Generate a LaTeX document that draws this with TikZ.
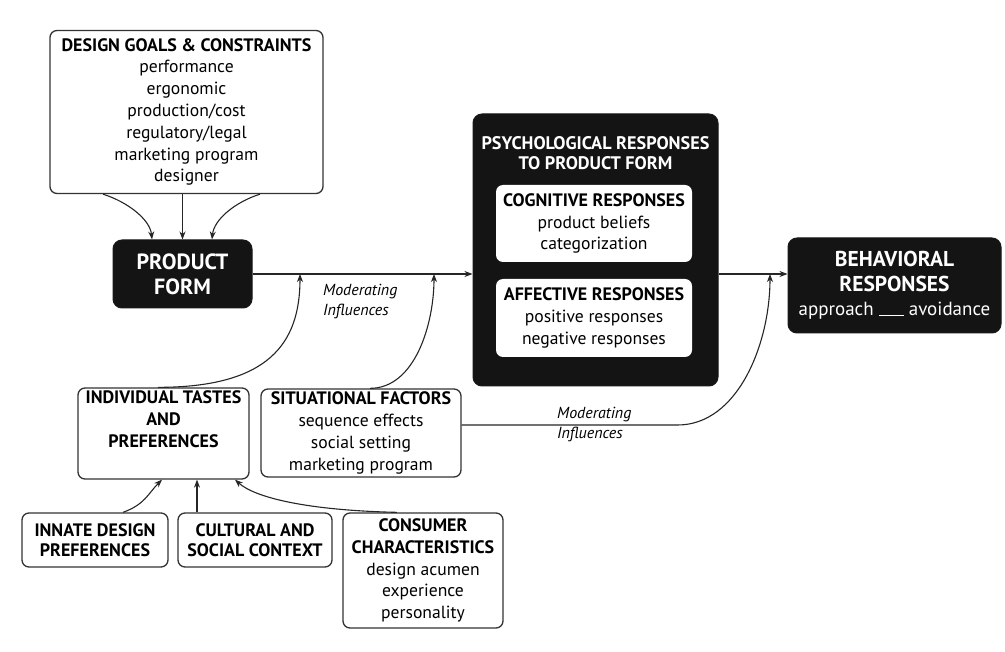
\documentclass[tikz,border=0pt]{standalone}
\usepackage{fontspec}
\setmainfont{PT Sans}
\usetikzlibrary{arrows.meta}
\newcommand\hdr[1]{{\bfseries\fontsize{18}{21.8}\selectfont #1}}
\begin{document}
\begin{tikzpicture}[x=1pt,y=-1pt,
  wbox/.style={draw=black!80, line width=1.3pt, rounded corners=7pt, fill=white, inner sep=0pt, align=center, font=\fontsize{17.6}{21.8}\selectfont},
  bbox/.style={draw=black!90, fill=black!92, line width=1pt, rounded corners=9pt, text=white, inner sep=0pt, align=center},
  arr/.style={-{Stealth[length=8pt,width=6pt,inset=2.5pt]}, line width=1.1pt, draw=black!85},
  modlab/.style={font=\itshape\fontsize{16}{19.5}\selectfont, align=left, inner sep=0pt, anchor=west}]
\useasboundingbox (0,0) rectangle (1005,652);
\fill[white] (0,0) rectangle (1005,652);

% boxes
\node[wbox, minimum width=273pt, minimum height=163pt] (design) at (186.5,112)
  {\hdr{DESIGN GOALS \& CONSTRAINTS}\\performance\\ergonomic\\production/cost\\regulatory/legal\\marketing program\\designer};
\node[bbox, minimum width=139pt, minimum height=68pt, font=\bfseries\fontsize{22}{25}\selectfont] (product) at (182.5,274) {PRODUCT\\FORM};

\node[bbox, minimum width=245pt, minimum height=272pt] (psych) at (595.5,250) {};
\node[text=white, align=center, inner sep=0pt, font=\bfseries\fontsize{18.2}{20.5}\selectfont] (ptitle) at (595.5,153) {PSYCHOLOGICAL RESPONSES\\TO PRODUCT FORM};
\node[wbox, draw=none, minimum width=196pt, minimum height=77pt] (cog) at (594,223.5)
  {\hdr{COGNITIVE RESPONSES}\\product beliefs\\categorization};
\node[wbox, draw=none, minimum width=196pt, minimum height=78pt] (aff) at (594,318)
  {\hdr{AFFECTIVE RESPONSES}\\positive responses\\negative responses};

\node[bbox, minimum width=213pt, minimum height=95pt, font=\fontsize{19}{24.5}\selectfont] (behav) at (894.5,285.5)
  {{\bfseries\fontsize{21.5}{25}\selectfont BEHAVIORAL}\\{\bfseries\fontsize{21.5}{25}\selectfont RESPONSES}\\approach \rule[0pt]{25pt}{1pt} avoidance};

\node[wbox, minimum width=171pt, minimum height=91pt] (indiv) at (163.5,433.5)
  {\hdr{INDIVIDUAL TASTES}\\\hdr{AND}\\\hdr{PREFERENCES}\\\strut};
\node[wbox, minimum width=200pt, minimum height=88pt] (situ) at (361,433)
  {\hdr{SITUATIONAL FACTORS}\\sequence effects\\social setting\\marketing program};

\node[wbox, minimum width=146pt, minimum height=54pt, font=\fontsize{17.6}{20.5}\selectfont] (innate) at (95,540)
  {\hdr{INNATE DESIGN}\\\hdr{PREFERENCES}};
\node[wbox, minimum width=154pt, minimum height=54pt, font=\fontsize{17.6}{20.5}\selectfont] (cult) at (255,540)
  {\hdr{CULTURAL AND}\\\hdr{SOCIAL CONTEXT}};
\node[wbox, minimum width=160pt, minimum height=115pt] (cons) at (423,570.5)
  {\hdr{CONSUMER}\\\hdr{CHARACTERISTICS}\\design acumen\\experience\\personality};

% labels
\node[modlab] (lab1) at (323,301.5) {Moderating\\Influences};
\node[modlab] (lab2) at (557,424.5) {Moderating\\Influences};

% coordinates on main lines
\coordinate (m1) at (300,274);
\coordinate (m2) at (434,274);
\coordinate (m3) at (770,274);

% design arrows
\draw[arr] ([xshift=-83.5pt]design.south) .. controls +(25,8) and +(-2,-20) .. ([xshift=-30.5pt]product.north);
\draw[arr] (product.north |- design.south) -- (product.north);
\draw[arr] ([xshift=73.5pt]design.south) .. controls +(-25,8) and +(2,-20) .. ([xshift=29.5pt]product.north);

% main flow
\draw[arr] (product.east) -- (product.east -| psych.west);
\draw[arr] (psych.east |- product.east) -- (behav.west |- product.east);

% moderating
\draw[arr] ([xshift=-5.5pt]indiv.north) .. controls +(110,0) and +(0,70) .. (m1);
\draw[arr] ([xshift=9pt]situ.north) .. controls +(45,0) and +(0,50) .. (m2);
\draw[arr] ([yshift=8pt]situ.east) -- ++(216,0) .. controls +(60,0) and +(0,70) .. (m3);

% lower arrows
\draw[arr] ([xshift=28pt]innate.north) .. controls +(22,-8) and +(-14,14) .. ([xshift=-1.5pt]indiv.south);
\draw[arr] ([xshift=-58pt]cult.north) -- ([xshift=33.5pt]indiv.south);
\draw[arr] ([xshift=-26pt]cons.north) .. controls +(-90,-2) and +(20,18) .. ([xshift=71.5pt]indiv.south);
\end{tikzpicture}
\end{document}
